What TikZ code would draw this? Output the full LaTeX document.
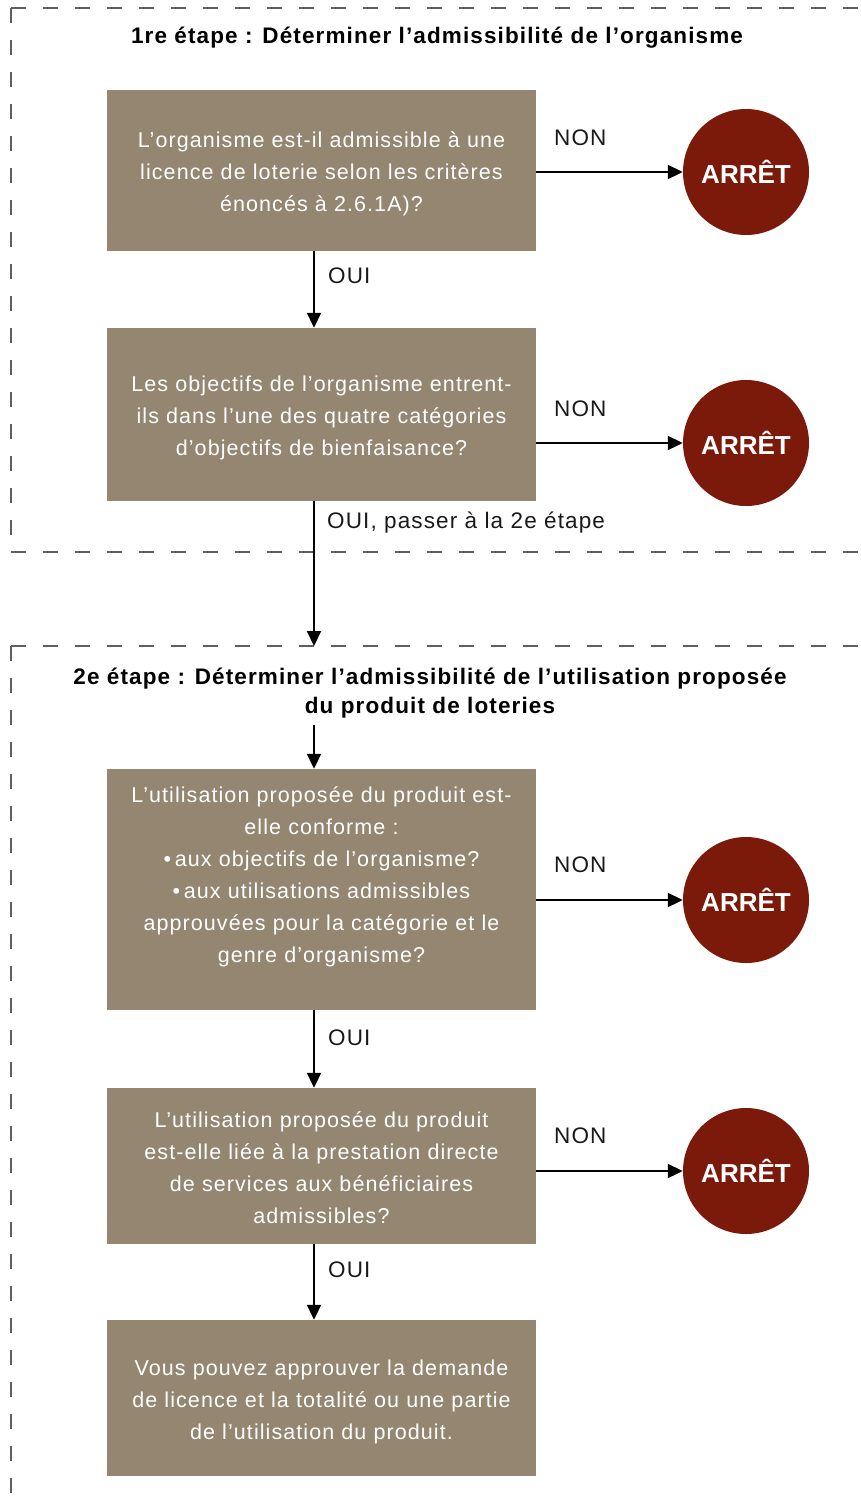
\documentclass[tikz,border=0pt]{standalone}
\usepackage{fontspec}
\setmainfont{Liberation Sans}
\newfontfamily\trk[LetterSpace=5]{Liberation Sans}
\newcommand\lift[1]{\rule{0pt}{#1}}
\usetikzlibrary{arrows.meta}
\definecolor{boxc}{RGB}{148,134,112}
\definecolor{stopc}{RGB}{123,26,10}
\definecolor{dashc}{RGB}{95,95,95}
\begin{document}
\begin{tikzpicture}[x=1pt,y=-1pt,
  box/.style={fill=boxc, text=white, minimum width=429pt, inner sep=0pt, align=center,
    font=\trk\fontsize{21.5}{32}\selectfont, text width=425pt},
  stopnode/.style={circle, fill=stopc, minimum size=126pt, inner sep=0pt, text=white,
    font=\fontsize{26}{30}\selectfont\bfseries},
  arr/.style={line width=2pt, -{Triangle[length=15pt,width=14pt]}},
  lbl/.style={font=\trk\fontsize{22.5}{26}\selectfont, text=black!90, inner sep=0pt, anchor=west},
  ttl/.style={font=\trk\fontsize{22.5}{29}\selectfont\bfseries, align=center, inner sep=0pt},
  stage/.style={draw=dashc, line width=1.3pt, dash pattern=on 15pt off 17pt}]
\useasboundingbox (0,0) rectangle (861,1509);
\clip (0,0) rectangle (861,1509);

% stage frames
\draw[stage] (11,8) -- (880,8);
\draw[stage] (11,8) -- (11,552);
\draw[stage] (11,552) -- (880,552);
\draw[stage] (11,646) -- (880,646);
\draw[stage] (11,646) -- (11,1530);

\coordinate (ax) at (314,0);

% titles
\node[ttl] (t1) at (437,38) {1re étape : Déterminer l’admissibilité de l’organisme};
\node[ttl] (t2) at (430,693) {2e étape : Déterminer l’admissibilité de l’utilisation proposée\\du produit de loteries};

% boxes
\node[box, minimum height=161pt] (b1) at (321.5,170.5) {\lift{23pt}L’organisme est-il admissible à une\\licence de loterie selon les critères\\énoncés à 2.6.1A)?};
\node[box, minimum height=173pt] (b2) at (321.5,414.5) {\lift{23pt}Les objectifs de l’organisme entrent-\\ils dans l’une des quatre catégories\\d’objectifs de bienfaisance?};
\node[box, minimum height=241pt] (b3) at (321.5,889.5) {\lift{17.5pt}L’utilisation proposée du produit est-\\elle conforme :\\\textbullet\,aux objectifs de l’organisme?\\\textbullet\,aux utilisations admissibles\\approuvées pour la catégorie et le\\genre d’organisme?\\\mbox{}};
\node[box, minimum height=156pt] (b4) at (321.5,1166) {\lift{19.5pt}L’utilisation proposée du produit\\est-elle liée à la prestation directe\\de services aux bénéficiaires\\admissibles?};
\node[box, minimum height=156pt] (b5) at (321.5,1398) {\lift{23pt}Vous pouvez approuver la demande\\de licence et la totalité ou une partie\\de l’utilisation du produit.};

% stop circles
\node[stopnode] (c1) at (746,172) {ARRÊT};
\node[stopnode] (c2) at (746,443) {ARRÊT};
\node[stopnode] (c3) at (746,900) {ARRÊT};
\node[stopnode] (c4) at (746,1171) {ARRÊT};

% NON connectors
\draw[arr] (c1.west -| b1.east) -- (c1.west);
\draw[arr] (c2.west -| b2.east) -- (c2.west);
\draw[arr] (c3.west -| b3.east) -- (c3.west);
\draw[arr] (c4.west -| b4.east) -- (c4.west);
\node[lbl] (n1) at (554,138) {NON};
\node[lbl] (n2) at (554,409) {NON};
\node[lbl] (n3) at (554,865) {NON};
\node[lbl] (n4) at (554,1136) {NON};

% OUI connectors
\coordinate (s2top) at (314,646);
\coordinate (t2bot) at (314,725);
\draw[arr] (b1.south -| ax) -- (b2.north -| ax);
\draw[arr] (b2.south -| ax) -- (s2top);
\draw[arr] (t2bot) -- (b3.north -| ax);
\draw[arr] (b3.south -| ax) -- (b4.north -| ax);
\draw[arr] (b4.south -| ax) -- (b5.north -| ax);
\node[lbl] (o1) at (328,276) {OUI};
\node[lbl] (o2) at (327,523) {OUI, passer à la 2e étape};
\node[lbl] (o3) at (328,1038) {OUI};
\node[lbl] (o4) at (328,1270) {OUI};
\end{tikzpicture}
\end{document}
